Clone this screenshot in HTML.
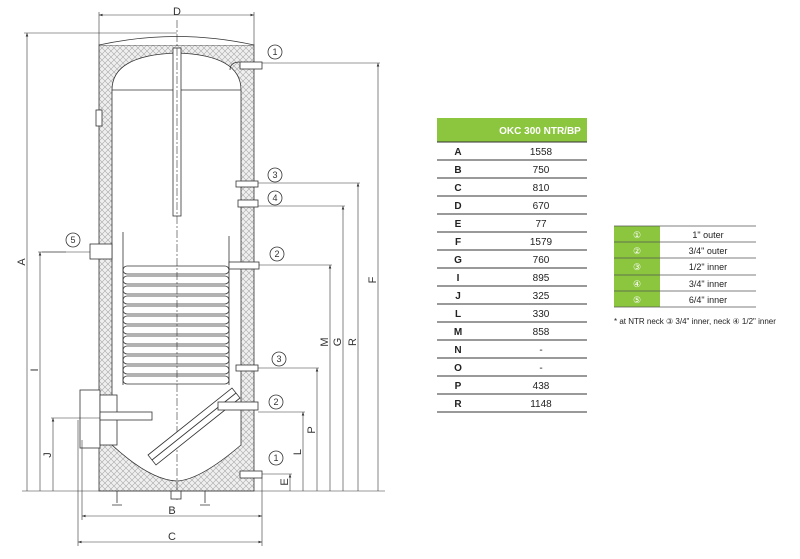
<!DOCTYPE html>
<html><head><meta charset="utf-8"><style>
html,body{margin:0;padding:0;background:#fff;width:800px;height:559px;overflow:hidden}
svg{display:block}
text{font-family:"Liberation Sans",sans-serif}
</style></head><body>
<svg width="800" height="559" viewBox="0 0 800 559" xmlns="http://www.w3.org/2000/svg">
<defs>
<pattern id="h" width="6" height="6" patternUnits="userSpaceOnUse">
<rect width="6" height="6" fill="#efefef"/>
<path d="M0 0L6 6M6 0L0 6" stroke="#a8a8a8" stroke-width="0.6"/>
</pattern>
<marker id="a" markerWidth="6" markerHeight="6" refX="6" refY="3" orient="auto-start-reverse"><path d="M0 0.8L6 3L0 5.2z" fill="#333"/></marker>
</defs>
<g stroke="#333" stroke-width="0.8" fill="none">
<path d="M99 45 L254 45 L254 491 L99 491 Z" fill="url(#h)"/>
<path d="M112 90 Q112 55 177 53 Q241 55 241 90 L241 445 Q200 480 177 481 Q150 480 112 445 Z" fill="#fff"/>
<path d="M99 45 Q177 28 254 45" fill="#fff"/>
<line x1="112" y1="90" x2="241" y2="90"/>
<rect x="173" y="48" width="8" height="168" fill="#fff"/>
<line x1="177" y1="20" x2="177" y2="500" stroke-dasharray="8 2 2 2" stroke-width="0.6"/>
<line x1="123" y1="232" x2="123" y2="385"/>
<line x1="229" y1="236" x2="229" y2="385"/>
<g>
<path d="M127 266h98a4 4 0 0 1 0 8h-98a4 4 0 0 1 0-8z"/>
<path d="M127 276h98a4 4 0 0 1 0 8h-98a4 4 0 0 1 0-8z"/>
<path d="M127 286h98a4 4 0 0 1 0 8h-98a4 4 0 0 1 0-8z"/>
<path d="M127 296h98a4 4 0 0 1 0 8h-98a4 4 0 0 1 0-8z"/>
<path d="M127 306h98a4 4 0 0 1 0 8h-98a4 4 0 0 1 0-8z"/>
<path d="M127 316h98a4 4 0 0 1 0 8h-98a4 4 0 0 1 0-8z"/>
<path d="M127 326h98a4 4 0 0 1 0 8h-98a4 4 0 0 1 0-8z"/>
<path d="M127 336h98a4 4 0 0 1 0 8h-98a4 4 0 0 1 0-8z"/>
<path d="M127 346h98a4 4 0 0 1 0 8h-98a4 4 0 0 1 0-8z"/>
<path d="M127 356h98a4 4 0 0 1 0 8h-98a4 4 0 0 1 0-8z"/>
<path d="M127 366h98a4 4 0 0 1 0 8h-98a4 4 0 0 1 0-8z"/>
<path d="M127 376h98a4 4 0 0 1 0 8h-98a4 4 0 0 1 0-8z"/>
</g>
<rect x="229" y="262" width="30" height="7" fill="#fff"/>
<path d="M148 455 L232 388 L240 398 L156 465 Z" fill="#fff"/>
<path d="M152 460 L236 393"/>
<rect x="218" y="402" width="40" height="8" fill="#fff"/>
<rect x="80" y="390" width="20" height="58" fill="#fff"/>
<rect x="100" y="395" width="17" height="50" fill="#fff"/>
<rect x="100" y="412" width="52" height="8" fill="#fff"/>
<rect x="240" y="62" width="22" height="7" fill="#fff"/>
<path d="M240 62 Q230 62 230 70"/>
<rect x="236" y="181" width="22" height="6" fill="#fff"/>
<rect x="238" y="200" width="20" height="7" fill="#fff"/>
<rect x="236" y="365" width="22" height="6" fill="#fff"/>
<rect x="240" y="471" width="22" height="7" fill="#fff"/>
<rect x="90" y="244" width="22" height="15" fill="#fff"/>
<rect x="96" y="110" width="6" height="16" fill="#fff"/>
<rect x="171" y="491" width="10" height="8" fill="#fff"/>
<path d="M117 491v12M112 505h10M205 491v12M200 505h10"/>
<g stroke-width="0.6">
<line x1="99" y1="15" x2="254" y2="15" marker-start="url(#a)" marker-end="url(#a)"/>
<line x1="99" y1="12" x2="99" y2="45"/><line x1="254" y1="12" x2="254" y2="45"/>
<line x1="22" y1="491" x2="385" y2="491"/>
<line x1="24" y1="33" x2="177" y2="33"/>
<line x1="27" y1="491" x2="27" y2="33" marker-end="url(#a)"/>
<line x1="38" y1="252" x2="90" y2="252"/>
<line x1="40" y1="491" x2="40" y2="252" marker-end="url(#a)"/>
<line x1="51" y1="418" x2="100" y2="418"/>
<line x1="53" y1="491" x2="53" y2="418" marker-end="url(#a)"/>
<line x1="82" y1="440" x2="82" y2="520"/><line x1="78" y1="420" x2="78" y2="546"/><line x1="262" y1="478" x2="262" y2="546"/>
<line x1="82" y1="516" x2="262" y2="516" marker-start="url(#a)" marker-end="url(#a)"/>
<line x1="78" y1="542" x2="262" y2="542" marker-start="url(#a)" marker-end="url(#a)"/>
<line x1="262" y1="474" x2="292" y2="474"/><line x1="290" y1="491" x2="290" y2="474" marker-end="url(#a)"/>
<line x1="258" y1="412" x2="305" y2="412"/><line x1="303" y1="491" x2="303" y2="412" marker-end="url(#a)"/>
<line x1="258" y1="368" x2="319" y2="368"/><line x1="317" y1="491" x2="317" y2="368" marker-end="url(#a)"/>
<line x1="259" y1="265" x2="332" y2="265"/><line x1="330" y1="491" x2="330" y2="265" marker-end="url(#a)"/>
<line x1="258" y1="206" x2="345" y2="206"/><line x1="343" y1="491" x2="343" y2="206" marker-end="url(#a)"/>
<line x1="258" y1="183" x2="360" y2="183"/><line x1="358" y1="491" x2="358" y2="183" marker-end="url(#a)"/>
<line x1="262" y1="63" x2="380" y2="63"/><line x1="378" y1="491" x2="378" y2="63" marker-end="url(#a)"/>
</g>
<circle cx="275" cy="52" r="7"/><circle cx="275" cy="175" r="7"/><circle cx="275" cy="198" r="7"/>
<circle cx="277" cy="254" r="7"/><circle cx="279" cy="359" r="7"/><circle cx="276" cy="402" r="7"/>
<circle cx="276" cy="458" r="7"/><circle cx="73" cy="240" r="7"/>
<line x1="42" y1="252" x2="66" y2="252" stroke-width="0.6"/>
</g>
<g font-size="9" fill="#333" text-anchor="middle">
<text x="275" y="55">1</text><text x="275" y="178">3</text><text x="275" y="201">4</text>
<text x="277" y="257">2</text><text x="279" y="362">3</text><text x="276" y="405">2</text>
<text x="276" y="461">1</text><text x="73" y="243">5</text>
</g>
<g font-size="11" fill="#333" text-anchor="middle">
<text x="177" y="15">D</text><text x="172" y="514">B</text><text x="172" y="540">C</text>
<text transform="translate(25,262) rotate(-90)">A</text>
<text transform="translate(38,370) rotate(-90)">I</text>
<text transform="translate(51,455) rotate(-90)">J</text>
<text transform="translate(288,482) rotate(-90)">E</text>
<text transform="translate(301,452) rotate(-90)">L</text>
<text transform="translate(315,430) rotate(-90)">P</text>
<text transform="translate(328,342) rotate(-90)">M</text>
<text transform="translate(341,342) rotate(-90)">G</text>
<text transform="translate(356,342) rotate(-90)">R</text>
<text transform="translate(376,280) rotate(-90)">F</text>
</g>
<rect x="437" y="118" width="150" height="24" fill="#8cc63f"/>
<text x="540" y="134" font-size="10" font-weight="bold" fill="#fff" text-anchor="middle">OKC 300 NTR/BP</text>
<g stroke="#333" stroke-width="1">
<line x1="437" y1="142" x2="587" y2="142"/><line x1="437" y1="160" x2="587" y2="160"/><line x1="437" y1="178" x2="587" y2="178"/>
<line x1="437" y1="196" x2="587" y2="196"/><line x1="437" y1="214" x2="587" y2="214"/><line x1="437" y1="232" x2="587" y2="232"/>
<line x1="437" y1="250" x2="587" y2="250"/><line x1="437" y1="268" x2="587" y2="268"/><line x1="437" y1="286" x2="587" y2="286"/>
<line x1="437" y1="304" x2="587" y2="304"/><line x1="437" y1="322" x2="587" y2="322"/><line x1="437" y1="340" x2="587" y2="340"/>
<line x1="437" y1="358" x2="587" y2="358"/><line x1="437" y1="376" x2="587" y2="376"/><line x1="437" y1="394" x2="587" y2="394"/>
<line x1="437" y1="412" x2="587" y2="412"/>
</g>
<g font-size="10" fill="#222">
<g font-weight="bold" text-anchor="middle">
<text x="458" y="155">A</text><text x="458" y="173">B</text><text x="458" y="191">C</text><text x="458" y="209">D</text>
<text x="458" y="227">E</text><text x="458" y="245">F</text><text x="458" y="263">G</text><text x="458" y="281">I</text>
<text x="458" y="299">J</text><text x="458" y="317">L</text><text x="458" y="335">M</text><text x="458" y="353">N</text>
<text x="458" y="371">O</text><text x="458" y="389">P</text><text x="458" y="407">R</text>
</g>
<g text-anchor="middle">
<text x="541" y="155">1558</text><text x="541" y="173">750</text><text x="541" y="191">810</text><text x="541" y="209">670</text>
<text x="541" y="227">77</text><text x="541" y="245">1579</text><text x="541" y="263">760</text><text x="541" y="281">895</text>
<text x="541" y="299">325</text><text x="541" y="317">330</text><text x="541" y="335">858</text><text x="541" y="353">-</text>
<text x="541" y="371">-</text><text x="541" y="389">438</text><text x="541" y="407">1148</text>
</g>
</g>
<rect x="614" y="226" width="46" height="81" fill="#8cc63f"/>
<g stroke="#555" stroke-width="0.8">
<line x1="614" y1="226" x2="756" y2="226"/><line x1="614" y1="242" x2="756" y2="242"/><line x1="614" y1="258" x2="756" y2="258"/>
<line x1="614" y1="275" x2="756" y2="275"/><line x1="614" y1="291" x2="756" y2="291"/><line x1="614" y1="307" x2="756" y2="307"/>
</g>
<g font-size="9" text-anchor="middle">
<g fill="#fff"><text x="637" y="238">①</text><text x="637" y="254">②</text><text x="637" y="270">③</text><text x="637" y="287">④</text><text x="637" y="303">⑤</text></g>
<g fill="#222"><text x="708" y="238">1" outer</text><text x="708" y="254">3/4" outer</text><text x="708" y="270">1/2" inner</text><text x="708" y="287">3/4" inner</text><text x="708" y="303">6/4" inner</text></g>
</g>
<text x="614" y="324" font-size="8" fill="#222">* at NTR neck ③ 3/4" inner, neck ④ 1/2" inner</text>
</svg>
</body></html>
